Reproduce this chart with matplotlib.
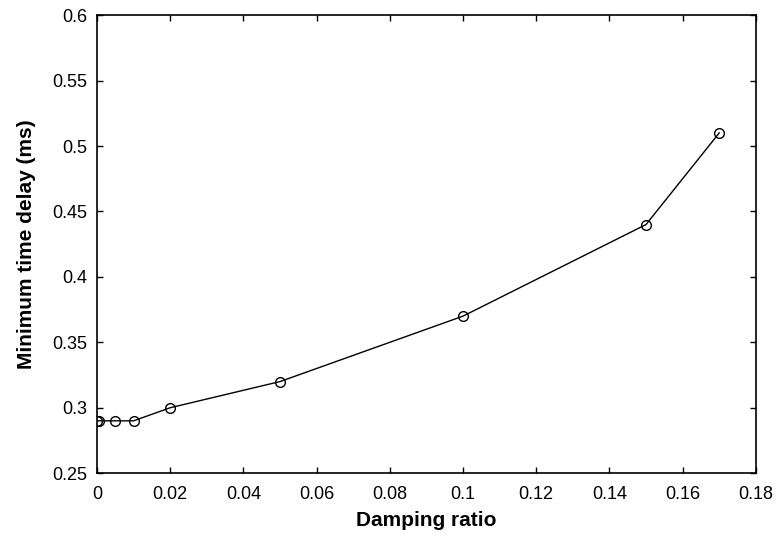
import matplotlib
matplotlib.use("Agg")
import matplotlib.pyplot as plt

# damping ratio vs minimum time delay
damping = [0.0, 0.0005, 0.005, 0.01, 0.02, 0.05, 0.1, 0.15, 0.17]
delay_ms = [0.29, 0.29, 0.29, 0.29, 0.30, 0.32, 0.37, 0.44, 0.51]

xticks = [0, 0.02, 0.04, 0.06, 0.08, 0.1, 0.12, 0.14, 0.16, 0.18]
xtick_labels = ["0", "0.02", "0.04", "0.06", "0.08", "0.1", "0.12", "0.14", "0.16", "0.18"]
yticks = [0.25, 0.3, 0.35, 0.4, 0.45, 0.5, 0.55, 0.6]
ytick_labels = ["0.25", "0.3", "0.35", "0.4", "0.45", "0.5", "0.55", "0.6"]

plt.rcParams["font.family"] = ["Liberation Sans", "DejaVu Sans"]

fig = plt.figure(figsize=(7.76, 5.42), dpi=100)
ax = fig.add_axes([0.125, 0.127, 0.849, 0.845])

ax.plot(damping, delay_ms, color="black", linewidth=1,
        marker="o", markersize=7, markerfacecolor="none",
        markeredgecolor="black", markeredgewidth=1)

ax.set_xlim(0, 0.18)
ax.set_ylim(0.25, 0.6)
ax.set_xticks(xticks)
ax.set_xticklabels(xtick_labels)
ax.set_yticks(yticks)
ax.set_yticklabels(ytick_labels)
ax.tick_params(direction="in", top=True, right=True, length=4.5,
               labelsize=13, width=1)
ax.tick_params(axis="x", pad=9)
ax.tick_params(axis="y", pad=7)
for s in ax.spines.values():
    s.set_linewidth(1.2)

ax.set_xlabel("Damping ratio", fontsize=15, fontweight="bold", labelpad=6)
ax.set_ylabel("Minimum time delay (ms)", fontsize=15, fontweight="bold", labelpad=12)

fig.savefig("out.png", dpi=100)
